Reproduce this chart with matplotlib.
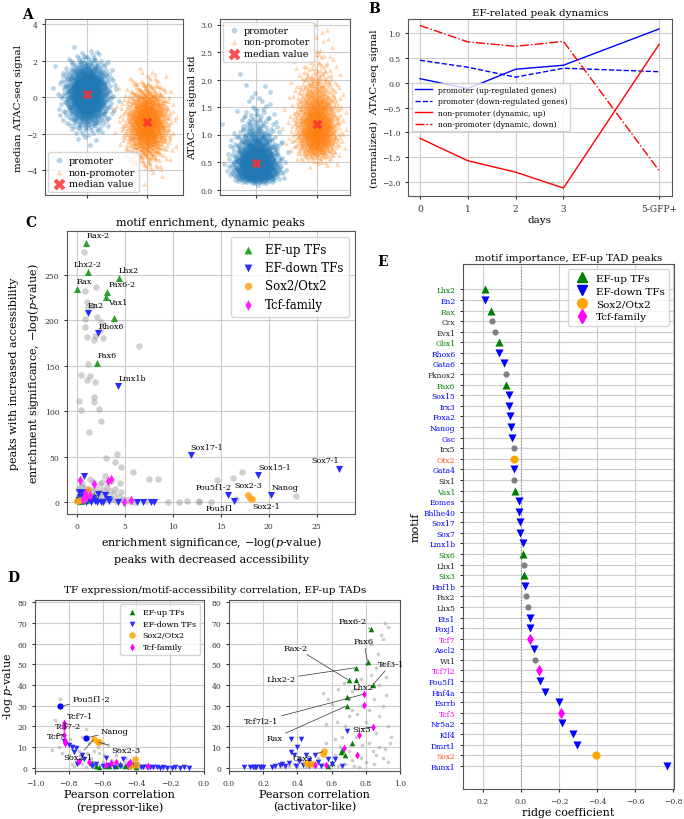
import numpy as np
import matplotlib
matplotlib.use("Agg")
import matplotlib.pyplot as plt
from matplotlib.lines import Line2D
from statistics import NormalDist

plt.rcParams['font.family'] = ['DejaVu Serif']
plt.rcParams['mathtext.fontset'] = 'dejavuserif'
plt.rcParams['axes.edgecolor'] = '#555555'
plt.rcParams['axes.linewidth'] = 0.8
plt.rcParams['grid.color'] = '#cccccc'
plt.rcParams['grid.linewidth'] = 0.8
plt.rcParams['xtick.color'] = '#333333'
plt.rcParams['ytick.color'] = '#333333'

# ---------------- Panel A: cloud summary ----------------
A_groups = ['promoter', 'non-promoter']
A_median_center = [0.20, -1.35]     # median ATAC-seq signal (median marker)
A_median_spread = [0.85, 1.00]
A_std_center = [0.48, 1.20]         # ATAC-seq signal std (median marker)
A_std_logspread = [0.50, 0.33]
A_n_points = 1200

# ---------------- Panel B ----------------
B_days = [0, 1, 2, 3, 5]
B_day_labels = ['0', '1', '2', '3', '5-GFP+']
B_prom_up = [0.08, -0.12, 0.27, 0.35, 1.08]
B_prom_down = [0.45, 0.31, 0.11, 0.29, 0.22]
B_nonprom_up = [-1.12, -1.57, -1.80, -2.12, 0.77]
B_nonprom_down = [1.15, 0.82, 0.73, 0.83, -1.77]

# ---------------- Panel C ----------------
C_up = [(1.0, 285), (1.15, 253), (0.0, 234), (4.4, 246), (3.2, 231), (3.1, 226),
        (3.9, 202), (2.15, 153), (0.0, 5), (0.3, 3), (1.8, 8), (2.0, 5), (1.0, 2), (0.5, 1)]
C_down = [(1.15, 208), (2.2, 186), (4.35, 128), (11.9, 52), (18.9, 30), (27.3, 37),
          (15.8, 8), (16.4, 1), (20.3, 8), (0.8, 29), (0.3, 11), (0.6, 10), (1.0, 11),
          (1.3, 4), (0.6, 1), (1.0, 0), (1.5, 0), (1.9, 1), (2.1, 0), (2.2, 9), (2.5, 0),
          (3.0, 8), (3.3, 4), (3.4, 1), (4.3, 0), (6.3, 0), (6.9, 0), (7.8, 0), (8.1, 0),
          (0.2, 2), (1.7, 5), (2.8, 0), (0.4, 6)]
C_sox = [(17.9, 8), (18.3, 3), (18.1, 5), (0.0, 1), (1.2, 13), (0.8, 4), (0.4, 2)]
C_tcf = [(0.4, 24), (0.7, 3), (1.0, 6), (1.8, 20), (3.3, 23), (3.6, 25), (4.9, 0),
         (5.7, 2), (1.4, 8), (0.9, 10)]
C_other = [(0.73, 275), (0.84, 232), (2.05, 236), (1.08, 220), (1.18, 214), (0.84, 201),
           (1.7, 216), (2.15, 203), (0.84, 193), (1.08, 182), (1.9, 183), (1.8, 178),
           (2.4, 189), (2.8, 180), (2.57, 198), (6.5, 172), (1.18, 152), (0.42, 140),
           (1.1, 134), (1.87, 132), (1.42, 139), (0.3, 111), (0.42, 101), (1.8, 116),
           (1.8, 110), (2.3, 102), (2.57, 89), (1.3, 77), (3.1, 48), (4.2, 53), (4.0, 44),
           (4.6, 39), (3.0, 29), (3.6, 23), (4.5, 21), (5.9, 33), (7.5, 26), (8.5, 26),
           (1.7, 22), (2.4, 20), (4.0, 14), (14.6, 24), (16.3, 27), (17.2, 33), (22.9, 7),
           (9.5, 0), (10.7, 0), (11.5, 1), (12.7, 0), (12.8, 1), (14.0, 0), (16.6, 4),
           (0.1, 14), (0.5, 18), (0.9, 16), (1.3, 15), (1.6, 12), (2.0, 14), (2.4, 11),
           (2.7, 13), (3.1, 10), (3.5, 12), (3.9, 9), (4.4, 6), (4.8, 4), (5.3, 2),
           (0.2, 7), (0.7, 6), (1.2, 4), (1.6, 2), (2.3, 3), (2.6, 6), (3.7, 3), (4.1, 1),
           (5.6, 1), (6.0, 0), (7.2, 1), (0.3, 0), (1.1, 1), (2.9, 2), (3.5, 5), (1.4, 25),
           (2.6, 22), (0.6, 21), (3.2, 17), (4.6, 11)]
C_labels = {'Rax-2': (1.0, 285), 'Lhx2-2': (1.15, 253), 'Rax': (0.0, 234), 'Lhx2': (4.4, 246),
            'Pax6-2': (3.2, 231), 'Vax1': (3.1, 226), 'En2': (1.15, 208), 'Rhox6': (2.2, 186),
            'Pax6': (2.15, 153), 'Lmx1b': (4.35, 128), 'Sox17-1': (11.9, 52),
            'Sox15-1': (18.9, 30), 'Sox7-1': (27.3, 37), 'Pou5f1-2': (15.8, 8),
            'Pou5f1': (16.4, 1), 'Sox2-3': (17.9, 8), 'Sox2-1': (18.3, 3), 'Nanog': (20.3, 8)}

# ---------------- Panel D (left: repressor-like, right: activator-like) ----------------
DL_other = [(-0.85, 33), (-0.88, 23), (-0.9, 8.5), (-0.86, 10), (-0.83, 18), (-0.80, 6),
            (-0.78, 2), (-0.76, 4), (-0.74, 8), (-0.72, 15), (-0.70, 19), (-0.68, 12),
            (-0.67, 5), (-0.66, 3), (-0.64, 2), (-0.62, 7), (-0.6, 3), (-0.58, 1), (-0.56, 2),
            (-0.55, 4), (-0.53, 1), (-0.52, 6), (-0.5, 2), (-0.48, 1), (-0.47, 3), (-0.45, 0.5),
            (-0.44, 2), (-0.42, 1), (-0.41, 4), (-0.4, 1), (-0.38, 0.5), (-0.36, 0.8),
            (-0.34, 0.3), (-0.32, 0.2), (-0.3, 0.5), (-0.28, 0.2), (-0.25, 0.1), (-0.78, 9),
            (-0.75, 10), (-0.72, 2), (-0.69, 7), (-0.63, 10), (-0.59, 6), (-0.57, 11),
            (-0.54, 3), (-0.46, 5), (-0.81, 12), (-0.84, 7), (-0.79, 14), (-0.66, 1),
            (-0.61, 1.5), (-0.49, 0.5), (-0.43, 0.4), (-0.39, 2.5), (-0.35, 1.5), (-0.73, 5.5),
            (-0.77, 1), (-0.7, 0.5), (-0.65, 8), (-0.51, 9), (-0.6, 12)]
DL_down = [(-0.83, 13), (-0.82, 11.5), (-0.8, 11), (-0.78, 10), (-0.76, 9.5), (-0.77, 7.5),
           (-0.75, 2), (-0.74, 3), (-0.72, 6), (-0.71, 4.5), (-0.66, 1), (-0.64, 2), (-0.6, 1),
           (-0.58, 5), (-0.56, 1.5), (-0.53, 0.5), (-0.5, 1), (-0.48, 4.5), (-0.45, 0.5),
           (-0.43, 1), (-0.4, 1.2), (-0.37, 0.5), (-0.32, 0.2), (-0.3, 0.3), (-0.28, 0.2),
           (-0.26, 0.1), (-0.24, 0.2), (-0.22, 0.1), (-0.19, 0.1), (-0.17, 0.3), (-0.14, 0.1),
           (-0.12, 0.2), (-0.09, 0.1), (-0.34, 0.2), (-0.36, 0.3)]
DL_down_hl = [(-0.85, 29.7), (-0.70, 14.4)]
DL_up = [(-0.66, 2.5), (-0.64, 1), (-0.62, 0.5), (-0.58, 1), (-0.56, 0.8), (-0.52, 1),
         (-0.5, 2), (-0.47, 1), (-0.45, 1.5), (-0.42, 2), (-0.4, 0.5)]
DL_sox = [(-0.65, 14), (-0.63, 12.5), (-0.62, 12.3), (-0.41, 4.2), (-0.40, 1.5), (-0.44, 1)]
DL_tcf = [(-0.83, 21.5), (-0.83, 19.5), (-0.83, 16), (-0.82, 13), (-0.82, 12), (-0.74, 3.5),
          (-0.68, 3), (-0.55, 2.5), (-0.52, 3), (-0.45, 2), (-0.44, 3), (-0.33, 1), (-0.58, 1.5)]
DL_labels = [('Pou5f1-2', (-0.85, 29.7), (-0.78, 33)), ('Tcf7-1', (-0.83, 21.5), (-0.81, 25)),
             ('Tcf7-2', (-0.83, 19.5), (-0.88, 20)), ('Tcf7', (-0.83, 16), (-0.93, 15.4)),
             ('Nanog', (-0.70, 14.4), (-0.61, 17.8)), ('Sox2-3', (-0.63, 12.5), (-0.55, 8.7)),
             ('Sox2-1', (-0.65, 14), (-0.83, 5.3))]

DR_other = [(0.3, 0.5), (0.35, 1), (0.4, 1), (0.45, 0.5), (0.5, 1), (0.55, 2), (0.6, 3),
            (0.62, 6), (0.65, 10), (0.66, 15), (0.68, 20), (0.7, 25), (0.72, 28), (0.75, 26),
            (0.78, 30), (0.8, 22), (0.82, 12), (0.84, 8), (0.86, 17), (0.88, 25), (0.9, 30),
            (0.92, 35), (0.83, 45), (0.87, 55), (0.9, 62), (0.91, 70), (0.89, 64), (0.93, 68),
            (0.86, 48), (0.8, 50), (0.77, 43), (0.74, 38), (0.72, 37), (0.7, 33), (0.67, 41),
            (0.6, 31), (0.58, 33), (0.55, 36), (0.57, 21), (0.63, 22), (0.77, 5), (0.8, 3),
            (0.85, 2), (0.88, 10), (0.9, 5), (0.93, 20), (0.94, 12), (0.7, 8), (0.72, 4),
            (0.64, 1), (0.68, 2), (0.74, 15), (0.78, 11), (0.82, 28), (0.85, 33), (0.92, 44),
            (0.88, 40), (0.83, 60), (0.86, 6), (0.93, 3), (0.73, 1), (0.76, 0.5), (0.52, 5),
            (0.48, 3), (0.42, 4), (0.38, 2), (0.33, 0.5), (0.62, 14), (0.57, 12), (0.64, 38),
            (0.95, 15), (0.91, 9), (0.9, 50), (0.2, 0.2), (0.25, 0.3), (0.15, 0.1)]
DR_down = [(0.09, 0.2), (0.12, 0.3), (0.14, 0.2), (0.15, 0.5), (0.16, 0.3), (0.18, 0.2),
           (0.19, 0.5), (0.2, 0.3), (0.25, 0.5), (0.27, 1), (0.3, 1.5), (0.31, 2), (0.33, 1),
           (0.35, 2.5), (0.36, 14), (0.42, 14), (0.36, 7.5), (0.38, 6), (0.4, 10), (0.41, 3.5),
           (0.43, 1.5), (0.45, 6), (0.47, 4), (0.5, 6), (0.52, 3), (0.54, 1), (0.58, 4.5),
           (0.6, 2), (0.62, 4.5), (0.66, 1), (0.69, 18), (0.47, 1), (0.39, 1)]
DR_up = [(0.83, 67), (0.81, 51), (0.745, 48.4), (0.70, 42.3), (0.74, 42.3), (0.69, 34.4),
         (0.69, 30.0), (0.72, 12), (0.657, 7.8), (0.68, 6.3), (0.58, 1), (0.60, 2.5),
         (0.66, 8.5), (0.84, 40)]
DR_sox = [(0.555, 8), (0.47, 2), (0.49, 2), (0.45, 2.5), (0.55, 6.5)]
DR_tcf = [(0.79, 35.6), (0.79, 30.4), (0.67, 9.6), (0.505, 1.5), (0.565, 1.5), (0.75, 6),
          (0.76, 16), (0.84, 19.5)]
DR_labels = [('Pax6-2', (0.83, 67), (0.64, 70.8)), ('Pax6', (0.81, 51), (0.73, 61)),
             ('Tcf3-1', (0.84, 40), (0.87, 50)), ('Rax-2', (0.70, 42.3), (0.32, 58)),
             ('Lhx2-2', (0.745, 48.4), (0.22, 43)), ('Lhx2', (0.79, 35.6), (0.72, 39)),
             ('Tcf7l2-1', (0.79, 35.6), (0.09, 22.6)), ('Rax', (0.69, 30.0), (0.22, 14.4)),
             ('Six3', (0.84, 19.5), (0.72, 19)), ('Otx2', (0.555, 8), (0.37, 4.8))]

# ---------------- Panel E ----------------
E_motifs = ['Lhx2', 'En2', 'Rax', 'Crx', 'Evx1', 'Gbx1', 'Rhox6', 'Gata6', 'Pknox2', 'Pax6',
            'Sox15', 'Irx3', 'Foxa2', 'Nanog', 'Gsc', 'Irx5', 'Otx2', 'Gata4', 'Six1', 'Vax1',
            'Eomes', 'Bhlhe40', 'Sox17', 'Sox7', 'Lmx1b', 'Six6', 'Lhx1', 'Six3', 'Hnf1b',
            'Pax2', 'Lhx5', 'Ets1', 'Foxj1', 'Tcf7', 'Ascl2', 'Wt1', 'Tcf7l2', 'Pou5f1',
            'Hnf4a', 'Esrrb', 'Tcf3', 'Nr5a2', 'Klf4', 'Dmrt1', 'Sox2', 'Runx1']
E_coef = [0.19, 0.19, 0.156, 0.153, 0.137, 0.116, 0.116, 0.088, 0.077, 0.077,
          0.065, 0.065, 0.056, 0.051, 0.046, 0.039, 0.039, 0.037, 0.035, 0.032,
          0.011, 0.009, 0.007, 0.005, -0.010, -0.011, -0.016, -0.018, -0.023,
          -0.026, -0.037, -0.047, -0.047, -0.050, -0.066, -0.072, -0.093, -0.102,
          -0.126, -0.198, -0.209, -0.214, -0.274, -0.297, -0.395, -0.77]
E_group = ['up', 'down', 'up', 'other', 'other', 'up', 'down', 'down', 'other', 'up',
           'down', 'down', 'down', 'down', 'down', 'other', 'sox', 'down', 'other', 'up',
           'down', 'down', 'down', 'down', 'down', 'up', 'other', 'up', 'down',
           'other', 'other', 'down', 'down', 'tcf', 'down', 'other', 'tcf', 'down',
           'down', 'down', 'tcf', 'down', 'down', 'down', 'sox', 'down']

# ---------------- helpers ----------------
def halton(n, base):
    out = []
    for i in range(1, n + 1):
        f, r, k = 1.0, 0.0, i
        while k > 0:
            f /= base
            r += f * (k % base)
            k //= base
        out.append(r)
    return np.array(out)

_nd = NormalDist()
def qnorm(u):
    return np.array([_nd.inv_cdf(min(max(v, 1e-4), 1 - 1e-4)) for v in u])

zx = qnorm(halton(A_n_points, 2))
zy = qnorm(halton(A_n_points, 3))
zy2 = qnorm(halton(A_n_points, 5))
zx2 = qnorm(halton(A_n_points, 7))

fig = plt.figure(figsize=(6.84, 8.2), dpi=100)

def W(x0, x1):
    return x0 / 684, (x1 - x0) / 684
def H(y0, y1):
    return (820 - y1) / 820, (y1 - y0) / 820

def add_ax(x0, x1, y0, y1):
    l, w = W(x0, x1)
    b, h = H(y0, y1)
    return fig.add_axes([l, b, w, h])

tick_fs = 5.5
blue_c = '#1f77b4'
orange_c = '#ff7f0e'

# ---- A
axA1 = add_ax(45, 183, 20, 196)
axA2 = add_ax(220, 350, 20, 196)
for i, g in enumerate(A_groups):
    mk = 'o' if i == 0 else '^'
    col = blue_c if i == 0 else orange_c
    xs = i + 0.17 * (zx if i == 0 else zx2)
    ys = A_median_center[i] + A_median_spread[i] * (zy if i == 0 else zy2)
    axA1.scatter(xs, ys, s=12, marker=mk, color=col, alpha=0.3, lw=0, label=g)
    ys2 = A_std_center[i] * np.exp(A_std_logspread[i] * (zy2 if i == 0 else zy))
    axA2.scatter(xs, ys2, s=12, marker=mk, color=col, alpha=0.3, lw=0, label=g)
axA1.scatter(range(2), A_median_center, marker='X', s=50, color='#ff3030', alpha=0.85,
             lw=0, label='median value', zorder=5)
axA2.scatter(range(2), A_std_center, marker='X', s=50, color='#ff3030', alpha=0.85,
             lw=0, label='median value', zorder=5)
axA1.set_xlim(-0.7, 1.6)
axA1.set_ylim(-5.35, 4.3)
axA1.set_yticks([-4, -2, 0, 2, 4])
axA2.set_xlim(-0.6, 1.55)
axA2.set_ylim(-0.1, 3.1)
axA2.set_yticks([0.0, 0.5, 1.0, 1.5, 2.0, 2.5, 3.0])
for ax in (axA1, axA2):
    ax.set_xticks([0, 1])
    ax.set_xticklabels(['', ''])
    ax.grid(True)
    ax.set_axisbelow(True)
    ax.tick_params(labelsize=tick_fs, length=2)
axA1.set_ylabel('median ATAC-seq signal', fontsize=7.5, labelpad=2)
axA2.set_ylabel('ATAC-seq signal std', fontsize=7.5, labelpad=2)
axA1.legend(loc='lower left', fontsize=6.8, handletextpad=0.3, borderpad=0.4, labelspacing=0.3,
            markerscale=1.2, borderaxespad=0.3, handlelength=1.5)
axA2.legend(loc='upper left', fontsize=6.8, handletextpad=0.3, borderpad=0.4, labelspacing=0.3,
            markerscale=1.2, borderaxespad=0.3, handlelength=1.5)
fig.text(22 / 684, 1 - 15 / 820, 'A', fontsize=10, fontweight='bold', va='center')

# ---- B
axB = add_ax(408, 672, 20, 197)
axB.plot(B_days, B_prom_up, color='blue', lw=1, label='promoter (up-regulated genes)')
axB.plot(B_days, B_prom_down, color='blue', lw=1, ls='--', label='promoter (down-regulated genes)')
axB.plot(B_days, B_nonprom_up, color='red', lw=1, label='non-promoter (dynamic, up)')
axB.plot(B_days, B_nonprom_down, color='red', lw=1, ls='-.', label='non-promoter (dynamic, down)')
axB.set_xlim(-0.25, 5.27)
axB.set_ylim(-2.28, 1.28)
axB.set_xticks(B_days)
axB.set_xticklabels(B_day_labels, fontsize=6.5)
axB.set_yticks([-2.0, -1.5, -1.0, -0.5, 0.0, 0.5, 1.0])
axB.tick_params(axis='y', labelsize=tick_fs, length=2)
axB.tick_params(axis='x', length=2)
axB.grid(True)
axB.set_title('EF-related peak dynamics', fontsize=7.5, pad=3)
axB.set_xlabel('days', fontsize=7.5, labelpad=2)
axB.set_ylabel('(normalized)  ATAC-seq signal', fontsize=7.5, labelpad=2)
axB.legend(loc='upper left', bbox_to_anchor=(0.0, 0.66), fontsize=5.5, handlelength=2.2,
           labelspacing=0.45, borderpad=0.4)
fig.text(368 / 684, 1 - 9 / 820, 'B', fontsize=10, fontweight='bold', va='center')

# ---- C
axC = add_ax(67, 355, 232, 515)
def xy(lst):
    a = np.array(lst, dtype=float)
    return a[:, 0], a[:, 1]
x, y = xy(C_other)
axC.scatter(x, y, s=22, color='#999999', alpha=0.45, lw=0, zorder=2)
x, y = xy(C_up)
axC.scatter(x, y, s=26, marker='^', color='#2ca02c', lw=0, zorder=3, label='EF-up TFs')
x, y = xy(C_down)
axC.scatter(x, y, s=26, marker='v', color='#2b2bff', lw=0, zorder=3, label='EF-down TFs')
x, y = xy(C_sox)
axC.scatter(x, y, s=24, marker='o', color='#ffa31a', alpha=0.85, lw=0, zorder=3, label='Sox2/Otx2')
x, y = xy(C_tcf)
axC.scatter(x, y, s=24, marker='d', color='#ff22ff', lw=0, zorder=3, label='Tcf-family')
C_offsets = {'Rax-2': (0, 3, 'left', 'bottom'), 'Lhx2-2': (0, 3, 'center', 'bottom'),
             'Rax': (0, 3, 'left', 'bottom'), 'Lhx2': (0, 3, 'left', 'bottom'),
             'Pax6-2': (1, 3, 'left', 'bottom'), 'Vax1': (1.5, -1, 'left', 'top'),
             'En2': (0, 3, 'left', 'bottom'), 'Rhox6': (0.5, 2, 'left', 'bottom'),
             'Pax6': (0, 3, 'left', 'bottom'), 'Lmx1b': (0, 3, 'left', 'bottom'),
             'Sox17-1': (0, 3, 'left', 'bottom'), 'Sox15-1': (0, 3, 'left', 'bottom'),
             'Sox7-1': (0, 3, 'right', 'bottom'), 'Pou5f1-2': (2, 3, 'right', 'bottom'),
             'Pou5f1': (0, -2, 'right', 'top'), 'Sox2-3': (0, 4, 'center', 'bottom'),
             'Sox2-1': (0, -1.5, 'left', 'top'), 'Nanog': (0, 3, 'left', 'bottom')}
for name, (px, py) in C_labels.items():
    dx, dy, ha, va = C_offsets[name]
    axC.annotate(name, (px, py), xytext=(dx, dy), textcoords='offset points', ha=ha, va=va,
                 fontsize=5.8, zorder=6)
axC.set_xlim(-1, 29)
axC.set_ylim(-13, 298)
axC.set_xticks([0, 5, 10, 15, 20, 25])
axC.set_yticks([0, 50, 100, 150, 200, 250])
axC.tick_params(labelsize=tick_fs, length=2)
axC.grid(True)
axC.set_axisbelow(True)
axC.set_title('motif enrichment, dynamic peaks', fontsize=8, pad=4)
axC.set_xlabel('enrichment significance, $-\\log(p$-value)\npeaks with decreased accessibility',
               fontsize=8, labelpad=3, linespacing=1.6)
axC.set_ylabel('peaks with increased accessibility\nenrichment significance, $-\\log(p$-value)',
               fontsize=8, labelpad=3, linespacing=1.6)
axC.legend(loc='upper right', fontsize=8.5, handletextpad=0.4, borderpad=0.5,
           labelspacing=0.45, markerscale=1.1)
fig.text(25 / 684, 1 - 223 / 820, 'C', fontsize=10, fontweight='bold', va='center')

# ---- D
axDL = add_ax(35, 204, 601, 772)
axDR = add_ax(229, 400, 601, 772)
def draw_D(ax, other, down, up, sox, tcf, labels, down_hl=None):
    x, y = xy(other)
    ax.scatter(x, y, s=7, color='#aaaaaa', alpha=0.6, lw=0, zorder=2)
    x, y = xy(up)
    ax.scatter(x, y, s=16, marker='^', color='green', lw=0, zorder=3, label='EF-up TFs')
    x, y = xy(down)
    ax.scatter(x, y, s=16, marker='v', color='#2b2bff', lw=0, zorder=3, label='EF-down TFs')
    x, y = xy(sox)
    ax.scatter(x, y, s=22, marker='o', color='orange', alpha=0.85, lw=0, zorder=3, label='Sox2/Otx2')
    x, y = xy(tcf)
    ax.scatter(x, y, s=16, marker='d', color='magenta', lw=0, zorder=3, label='Tcf-family')
    if down_hl is not None:
        x, y = xy(down_hl)
        ax.scatter(x, y, s=20, marker='o', color='blue', lw=0, zorder=4)
    for name, pt, tp in labels:
        ax.annotate(name, pt, xytext=tp, textcoords='data', fontsize=6, ha='left', va='center',
                    arrowprops=dict(arrowstyle='-', color='#333333', lw=0.5,
                                    shrinkA=0, shrinkB=1), zorder=6)
    ax.set_ylim(-1.5, 81)
    ax.set_yticks(range(0, 81, 10))
    ax.tick_params(labelsize=tick_fs, length=2)
    ax.grid(True)
    ax.set_axisbelow(True)
draw_D(axDL, DL_other, DL_down, DL_up, DL_sox, DL_tcf, DL_labels, DL_down_hl)
draw_D(axDR, DR_other, DR_down, DR_up, DR_sox, DR_tcf, DR_labels)
axDL.set_xlim(-1.0, 0.0)
axDR.set_xlim(0.0, 1.0)
axDL.set_xticks([-1.0, -0.8, -0.6, -0.4, -0.2, 0.0])
axDR.set_xticks([0.0, 0.2, 0.4, 0.6, 0.8, 1.0])
axDL.set_ylabel('-log $p$-value', fontsize=8, labelpad=2)
axDL.set_xlabel('Pearson correlation\n(repressor-like)', fontsize=8, labelpad=2)
axDR.set_xlabel('Pearson correlation\n(activator-like)', fontsize=8, labelpad=2)
axDL.legend(loc='upper right', fontsize=5.8, handletextpad=0.3, borderpad=0.5,
            labelspacing=0.45)
fig.text(215 / 684, 1 - 591 / 820, 'TF expression/motif-accessibility correlation, EF-up TADs',
         fontsize=7.5, ha='center', va='center')
fig.text(7 / 684, 1 - 578 / 820, 'D', fontsize=10, fontweight='bold', va='center')

# ---- E
axE = add_ax(463, 674, 265, 790)
n = len(E_motifs)
ypos = np.arange(n)[::-1]
style = {'up': ('^', 'green', 'green', 34), 'down': ('v', 'blue', 'blue', 34),
         'sox': ('o', 'orange', '#ff5522', 34), 'tcf': ('d', 'magenta', 'magenta', 34),
         'other': ('o', 'grey', '#222222', 20)}
for g in ['other', 'up', 'down', 'sox', 'tcf']:
    idx = [i for i in range(n) if E_group[i] == g]
    mk, col, _, s = style[g]
    axE.scatter([E_coef[i] for i in idx], ypos[idx], marker=mk, color=col, s=s, lw=0, zorder=3)
axE.axvline(0, color='#888888', ls=':', lw=0.8, zorder=1)
axE.set_yticks(ypos)
axE.set_yticklabels(E_motifs, fontsize=5.5)
for lab, g in zip(axE.get_yticklabels(), E_group):
    lab.set_color(style[g][2])
axE.set_xlim(0.305, -0.805)
axE.set_ylim(-2.2, n - 1 + 2.4)
axE.set_xticks([0.2, 0.0, -0.2, -0.4, -0.6, -0.8])
axE.tick_params(labelsize=tick_fs, length=2)
axE.grid(True)
axE.set_axisbelow(True)
axE.set_title('motif importance, EF-up TAD peaks', fontsize=7.5, pad=3)
axE.set_xlabel('ridge coefficient', fontsize=8, labelpad=2)
axE.set_ylabel('motif', fontsize=8, labelpad=2)
E_handles = [Line2D([], [], ls='', marker='^', color='green', ms=7, label='EF-up TFs'),
             Line2D([], [], ls='', marker='v', color='blue', ms=7, label='EF-down TFs'),
             Line2D([], [], ls='', marker='o', color='orange', ms=7, label='Sox2/Otx2'),
             Line2D([], [], ls='', marker='d', color='magenta', ms=7, label='Tcf-family')]
axE.legend(handles=E_handles, loc='upper right', fontsize=7.5, handletextpad=0.3,
           borderpad=0.4, labelspacing=0.35)
fig.text(377 / 684, 1 - 262 / 820, 'E', fontsize=10, fontweight='bold', va='center')

fig.savefig('out.png', dpi=100)
